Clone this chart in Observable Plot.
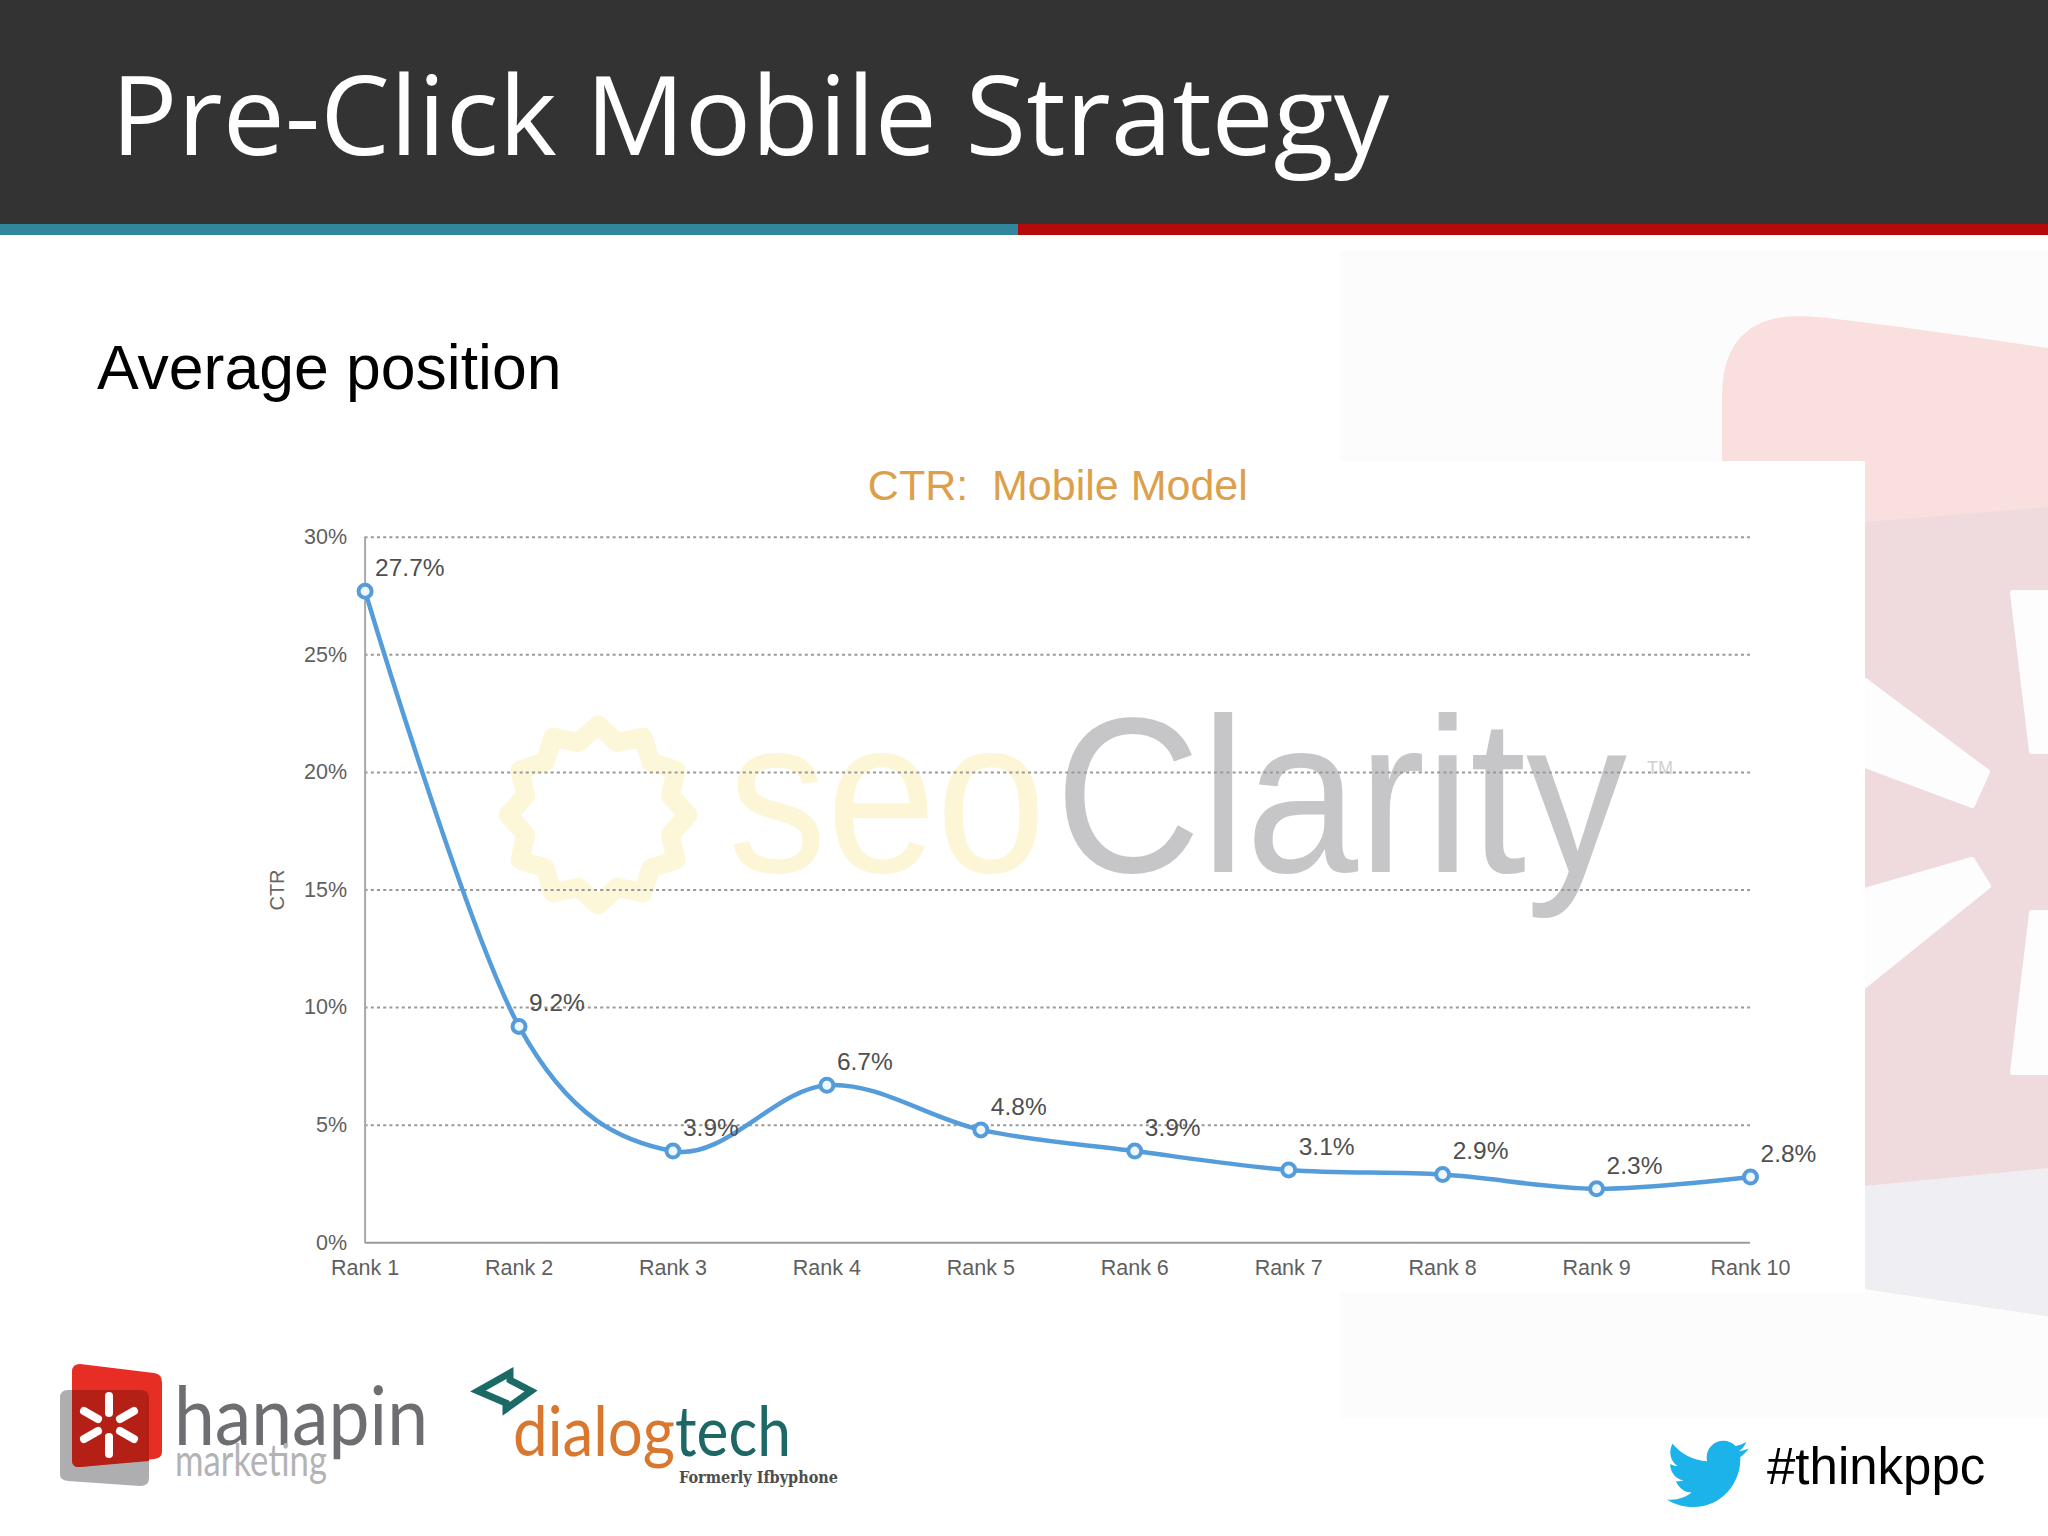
<!DOCTYPE html>
<html>
<head>
<meta charset="utf-8">
<title>Pre-Click Mobile Strategy</title>
<script src="https://cdn.jsdelivr.net/npm/d3@7"></script>
<script src="https://cdn.jsdelivr.net/npm/@observablehq/plot@0.6"></script>
<style>
  html, body { margin: 0; padding: 0; background: #fff; }
  #slide { position: relative; width: 2048px; height: 1536px; overflow: hidden; background: #fff; }
  #decor, #chart { position: absolute; left: 0; top: 0; }
  #chart svg { display: block; }
</style>
</head>
<body>
<div id="slide">
<svg id="decor" width="2048" height="1536" viewBox="0 0 2048 1536" xmlns="http://www.w3.org/2000/svg">
  <!-- faded background logo -->
  <rect x="1340" y="251" width="708" height="1167" fill="#fdfcfd"/>
  <path d="M1722 461 L1722 397 Q1722 316 1800 316 Q1830 316 2048 348 L2048 1316 L1865 1289 L1722 1289 Z" fill="#f9dfde"/>
  <path d="M1722 522 L1865 522 L2048 507 L2048 1168 L1865 1186 L1722 1186 Z" fill="#efdbde"/>
  <path d="M1722 1186 L1865 1186 L2048 1168 L2048 1316 L1865 1289 L1722 1289 Z" fill="#efeef2"/>
  <g fill="#fefdfd" stroke="#fefdfd" stroke-width="6" stroke-linejoin="round">
    <path d="M2013 593 L2048 593 L2048 751 L2032 751 Z"/>
    <path d="M1865 681 L1987 772 L1972 805 L1865 765 Z"/>
    <path d="M1865 891 L1972 860 L1988 886 L1865 985 Z"/>
    <path d="M2032 913 L2048 913 L2048 1072 L2013 1072 Z"/>
  </g>
  <!-- header -->
  <rect x="0" y="0" width="2048" height="224" fill="#333333"/>
  <rect x="0" y="224" width="1018" height="11" fill="#31859c"/>
  <rect x="1018" y="224" width="1030" height="11" fill="#b60a0a"/>
  <text x="111" y="155" font-family="'Open Sans', sans-serif" font-size="110" fill="#ffffff" textLength="1278" lengthAdjust="spacingAndGlyphs">Pre-Click Mobile Strategy</text>
  <text x="97" y="389" font-family="'Liberation Sans', Arial, sans-serif" font-size="62.5" fill="#000000">Average position</text>
  <!-- chart panel -->
  <rect x="230" y="461" width="1635" height="832" fill="#ffffff"/>
  <!-- hanapin logo -->
  <path d="M68 1390 Q60 1390 60 1398 L60 1475 Q60 1480 68 1481 L140 1486 Q149 1486 149 1478 L149 1398 Q149 1390 140 1390 Z" fill="#aeaeb0"/>
  <path d="M80 1364 L154 1373 Q162 1374 162 1382 L162 1452 Q162 1458 154 1459 L80 1467 Q72 1468 72 1460 L72 1372 Q72 1364 80 1364 Z" fill="#e62e24"/>
  <path d="M72 1390 L140 1390 Q149 1390 149 1398 L149 1461 L80 1467 Q72 1468 72 1460 Z" fill="#b41f16"/>
  <g stroke="#ffffff" stroke-width="8" stroke-linecap="round" transform="translate(109 1425)">
    <line x1="0" y1="-12" x2="0" y2="-29"/>
    <line x1="0" y1="12" x2="0" y2="29"/>
    <line x1="11" y1="-6" x2="25" y2="-14"/>
    <line x1="-11" y1="-6" x2="-25" y2="-14"/>
    <line x1="11" y1="6" x2="25" y2="14"/>
    <line x1="-11" y1="6" x2="-25" y2="14"/>
  </g>
  <text x="174" y="1445" font-family="Lato, sans-serif" font-weight="400" font-size="82" fill="#6d6e71" textLength="254" lengthAdjust="spacingAndGlyphs">hanapin</text>
  <text x="175" y="1476" font-family="Lato, sans-serif" font-weight="400" font-size="44" fill="#b3b3b6" textLength="152" lengthAdjust="spacingAndGlyphs">marketing</text>
  <!-- dialogtech logo -->
  <path d="M478 1391 L510 1373 L510 1380 L531 1391 L506 1409 L506 1403 Z" fill="none" stroke="#1b6a66" stroke-width="7"/>
  <text x="513" y="1456" font-family="Lato, sans-serif" font-size="70" fill="#d9772e" textLength="162" lengthAdjust="spacingAndGlyphs">dialog</text>
  <text x="675" y="1456" font-family="Lato, sans-serif" font-size="70" fill="#1d6767" textLength="116" lengthAdjust="spacingAndGlyphs">tech</text>
  <text x="679" y="1483" font-family="'DejaVu Serif', 'Liberation Serif', serif" font-weight="700" font-size="16" fill="#4d4d4d" textLength="159" lengthAdjust="spacingAndGlyphs">Formerly Ifbyphone</text>
  <!-- twitter -->
  <g transform="translate(1667 1433) scale(3.4)">
    <path fill="#1cb3ea" d="M23.954 4.569c-.885.389-1.83.654-2.825.775 1.014-.611 1.794-1.574 2.163-2.723-.951.555-2.005.959-3.127 1.184-.896-.959-2.173-1.559-3.591-1.559-2.717 0-4.92 2.203-4.92 4.917 0 .39.045.765.127 1.124C7.691 8.094 4.066 6.13 1.64 3.161c-.427.722-.666 1.561-.666 2.475 0 1.71.87 3.213 2.188 4.096-.807-.026-1.566-.248-2.228-.616v.061c0 2.385 1.693 4.374 3.946 4.827-.413.111-.849.171-1.296.171-.314 0-.615-.03-.916-.086.631 1.953 2.445 3.377 4.604 3.417-1.68 1.319-3.809 2.105-6.102 2.105-.39 0-.779-.023-1.17-.067 2.189 1.394 4.768 2.209 7.557 2.209 9.054 0 13.999-7.496 13.999-13.986 0-.209 0-.42-.015-.63.961-.689 1.8-1.56 2.46-2.548l-.047-.02z"/>
  </g>
  <text x="1767" y="1484" font-family="'Liberation Sans', Arial, sans-serif" font-size="51" fill="#000000">#thinkppc</text>
  <!-- seoClarity watermark -->
  <polygon id="sun" fill="none" stroke="#fdf7da" stroke-width="19" stroke-linejoin="round" points=""/>
  <text x="728" y="872" font-family="'Liberation Sans', sans-serif" font-size="220" fill="#fdf6d6" textLength="318" lengthAdjust="spacingAndGlyphs">seo</text>
  <text x="1055" y="872" font-family="'Liberation Sans', sans-serif" font-size="220" fill="#c6c6c8" textLength="572" lengthAdjust="spacingAndGlyphs">Clarity</text>
  <text x="1647" y="774" font-family="'Liberation Sans', sans-serif" font-size="18" fill="#cfcfd1">TM</text>
</svg>
<div id="chart"></div>
</div>
<script>
const ranks = ["Rank 1","Rank 2","Rank 3","Rank 4","Rank 5","Rank 6","Rank 7","Rank 8","Rank 9","Rank 10"];
const ctrValues = [27.7, 9.2, 3.9, 6.7, 4.8, 3.9, 3.1, 2.9, 2.3, 2.8];
const yTicks = [0, 5, 10, 15, 20, 25, 30];
const gridTicks = [5, 10, 15, 20, 25, 30];
const chartTitle = "CTR:  Mobile Model";
const yAxisTitle = "CTR";

const rows = ranks.map((rank, i) => ({rank, ctr: ctrValues[i]}));

// decorative zig-zag sun of the watermark
const sunPts = [];
for (let i = 0; i < 24; i++) {
  const a = i / 24 * 2 * Math.PI;
  const r = i % 2 ? 75 : 90;
  sunPts.push((598 + r * Math.sin(a)).toFixed(1) + "," + (815 - r * Math.cos(a)).toFixed(1));
}
document.getElementById("sun").setAttribute("points", sunPts.join(" "));

const lineColor = "#559cdb";
const chart = Plot.plot({
  width: 2048,
  height: 1536,
  marginLeft: 364.6,
  marginRight: 298,
  marginTop: 536.7,
  marginBottom: 293.7,
  style: {background: "transparent", fontFamily: "'Liberation Sans', Arial, sans-serif", fontSize: "21.5px", color: "#5a5a5a"},
  x: {type: "point", domain: ranks, padding: 0, round: false, label: null},
  y: {domain: [0, 30], label: null},
  marks: [
    Plot.ruleY(gridTicks, {stroke: "#999999", strokeWidth: 2, strokeDasharray: "3 3.2"}),
    Plot.ruleX([ranks[0]], {y1: 0, y2: 30, stroke: "#a8a8a8", strokeWidth: 2}),
    Plot.ruleY([0], {stroke: "#9a9a9a", strokeWidth: 2}),
    Plot.axisY({ticks: yTicks, tickFormat: d => d + "%", tickSize: 0, tickPadding: 18, label: null, fill: "#5f5f5f"}),
    Plot.axisX({tickSize: 0, tickPadding: 17, label: null, fill: "#5f5f5f"}),
    Plot.line(rows, {x: "rank", y: "ctr", stroke: lineColor, strokeWidth: 4.5, curve: "cardinal", tension: 0}),
    Plot.dot(rows, {x: "rank", y: "ctr", r: 6.5, fill: "#eef7ff", stroke: lineColor, strokeWidth: 4}),
    Plot.text(rows, {x: "rank", y: "ctr", text: d => d.ctr.toFixed(1) + "%", textAnchor: "start", dx: 10, dy: -23, fontSize: 24.5, fill: "#4f4f4f"}),
    Plot.text([chartTitle], {frameAnchor: "top", dy: -68, fontSize: 43, fill: "#dc9f4c"}),
    Plot.text([yAxisTitle], {frameAnchor: "left", textAnchor: "middle", dx: -88, rotate: -90, fontSize: 20, fill: "#666666"})
  ]
});
document.getElementById("chart").appendChild(chart);
</script>
</body>
</html>
